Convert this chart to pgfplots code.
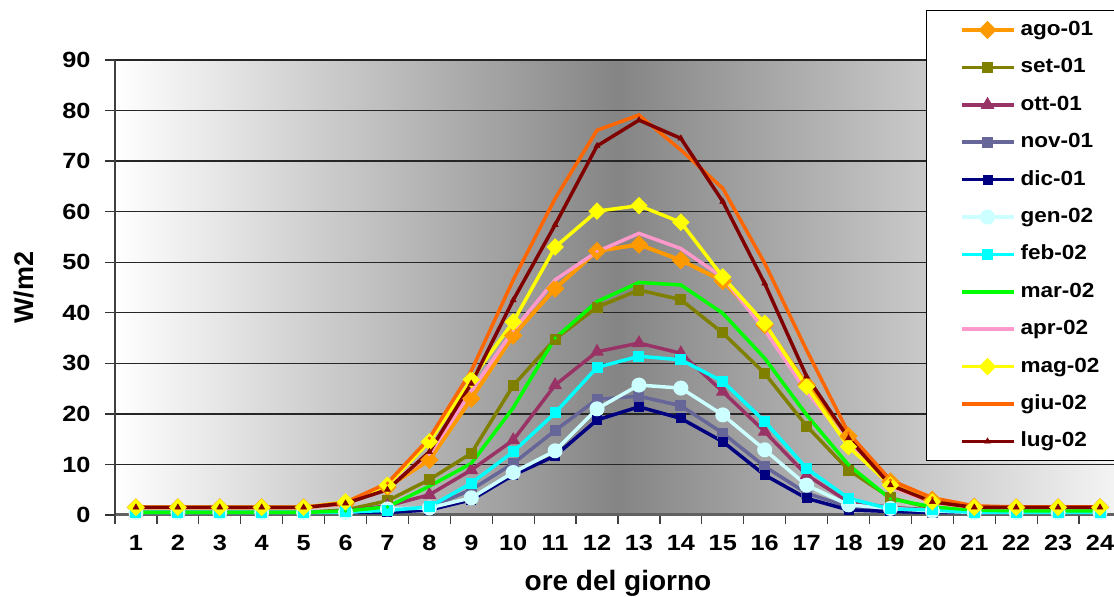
\documentclass[border=0pt]{standalone}
\usepackage{fontspec}
\setmainfont{Liberation Sans}
\newfontfamily\legfont[FakeStretch=1.1]{Liberation Sans}
\newfontfamily\tickfont[FakeStretch=1.15]{Liberation Sans}
\usepackage{pgfplots}
\pgfplotsset{compat=1.18}
\usepackage{pgfplotstable}
\definecolor{cago}{HTML}{FF9900}
\definecolor{cset}{HTML}{808000}
\definecolor{cott}{HTML}{993366}
\definecolor{cnov}{HTML}{666699}
\definecolor{cdic}{HTML}{000080}
\definecolor{cgen}{HTML}{CCFFFF}
\definecolor{cfeb}{HTML}{00FFFF}
\definecolor{cmar}{HTML}{00FF00}
\definecolor{capr}{HTML}{FF99CC}
\definecolor{cmag}{HTML}{FFFF00}
\definecolor{cgiu}{HTML}{FF6600}
\definecolor{clug}{HTML}{800000}
\pgfplotstableread{
h  ago  set  ott  nov  dic  gen  feb  mar  apr  mag  giu  lug
1  1.5  0.5  0.5  0.5  0.5  0.5  0.5  0.5  1.5  1.5  1.5  1.5
2  1.5  0.5  0.5  0.5  0.5  0.5  0.5  0.5  1.5  1.5  1.5  1.5
3  1.5  0.5  0.5  0.5  0.5  0.5  0.5  0.5  1.5  1.5  1.5  1.5
4  1.5  0.5  0.5  0.5  0.5  0.5  0.5  0.5  1.5  1.5  1.5  1.5
5  1.5  0.5  0.5  0.5  0.5  0.5  0.5  0.5  1.5  1.5  1.5  1.5
6  2.2  1.0  0.8  0.5  0.5  0.5  0.6  0.8  2.2  2.6  2.5  2.3
7  5.5  2.8  1.8  0.8  0.5  1.2  0.9  1.6  5.5  5.9  6.3  5.0
8  10.9 7.0  4.0  1.5  1.0  1.4  1.6  5.7  12.0 14.5 15.2 12.5
9  23.0 12.2 8.9  5.0  3.0  3.4  6.3  10.2 24.5 26.8 28.5 26.0
10 35.5 25.6 14.8 10.2 7.9  8.4  12.5 21.2 36.5 38.2 46.5 42.5
11 44.8 34.8 25.7 16.7 11.7 12.7 20.2 35.0 46.5 53.0 62.6 57.4
12 52.2 41.1 32.3 22.9 18.8 21.0 29.2 42.2 52.1 60.1 76.1 73.0
13 53.5 44.5 34.0 23.5 21.4 25.7 31.4 46.0 55.7 61.2 79.1 78.1
14 50.4 42.6 32.0 21.6 19.1 25.1 30.7 45.5 52.7 57.9 72.2 74.5
15 46.3 36.0 24.4 16.2 14.5 19.8 26.4 39.9 47.0 47.1 64.6 62.0
16 37.6 28.0 16.5 9.6  7.9  12.9 18.5 31.0 36.6 37.9 49.8 45.8
17 25.8 17.6 7.9  4.3  3.3  5.9  9.2  19.8 24.4 25.4 32.6 27.4
18 15.6 8.9  2.6  1.6  1.0  2.0  3.3  9.9  14.2 13.5 16.2 15.2
19 6.6  3.4  1.5  0.8  0.7  1.3  1.2  3.2  5.6  5.9  6.9  5.9
20 3.0  1.3  1.0  0.5  0.5  0.8  1.0  1.6  2.4  2.6  3.4  2.6
21 1.6  1.0  0.5  0.5  0.5  0.5  0.5  1.0  1.5  1.5  1.8  1.5
22 1.5  0.5  0.5  0.5  0.5  0.5  0.5  0.8  1.5  1.5  1.6  1.5
23 1.5  0.5  0.5  0.5  0.5  0.5  0.5  0.8  1.5  1.5  1.6  1.5
24 1.5  0.5  0.5  0.5  0.5  0.5  0.5  0.8  1.5  1.5  1.6  1.5
}\data
\begin{document}
\begin{tikzpicture}
\useasboundingbox (0,0) rectangle (1114pt,597pt);
\clip (0,0) rectangle (1114pt,597pt);
\begin{axis}[
  at={(115pt,82pt)}, anchor=south west,
  scale only axis, width=1006pt, height=455pt,
  xmin=0.5, xmax=24.5, ymin=0, ymax=90, clip=false,
  axis x line*=bottom, axis y line*=left,
  x axis line style={-, draw=black!62, line width=3pt},
  y axis line style={-, draw=black!75, line width=2pt},
  xtick={1,...,24}, major x tick style={draw=none},
  minor xtick={0.5,1.5,...,24.5},
  minor x tick style={draw=black!75, line width=1.2pt},
  minor tick length=9pt,
  ytick={0,10,...,90}, major tick length=10pt,
  major y tick style={draw=black!80, line width=1.4pt},
  tick align=outside,
  ymajorgrids, grid style={draw=black!85, line width=1.3pt},
  axis background/.style={left color=white, right color=white!96!black, middle color=black!48},
  ticklabel style={font=\tickfont\fontsize{22}{26}\selectfont\bfseries},
  xticklabel style={yshift=-7pt},
  yticklabel style={xshift=-11pt},
  /pgf/number format/assume math mode=true,
  every axis x label/.style={at={(rel axis cs:0.5,0)}, anchor=base, yshift=-75pt, font=\fontsize{28}{33}\selectfont\bfseries},
  every axis y label/.style={at={(rel axis cs:-0.0815,0.5)}, rotate=90, anchor=base, font=\fontsize{27}{32}\selectfont\bfseries},
  xlabel={ore del giorno}, ylabel={W/m2},
  legend style={at={(0.8062,1.1099)}, anchor=north west, draw=black, line width=1pt, fill=white,
    inner xsep=33pt, inner ysep=10pt, row sep=18.4pt, column sep=5pt,
    nodes={inner sep=0pt, text height=15pt, text depth=4pt, font=\legfont\fontsize{20.5}{24}\selectfont\bfseries}},
  legend cell align=left,
  legend image code/.code={\draw[mark repeat=2,mark phase=2] plot coordinates {(0pt,0pt) (26pt,0pt) (52pt,0pt)};},
]
\addplot[color=cago, line width=4pt, mark=diamond*, mark size=8.5pt, mark options={xscale=1.33, solid, fill=cago, line width=1pt}] table[x=h,y=ago]{\data};
\addlegendentry{ago-01}
\addplot[color=cset, line width=3.5pt, mark=square*, mark size=5pt, mark options={solid, fill=cset, line width=1pt}] table[x=h,y=set]{\data};
\addlegendentry{set-01}
\addplot[color=cott, line width=3.5pt, mark=triangle*, mark size=7pt, mark options={solid, fill=cott, line width=1pt}] table[x=h,y=ott]{\data};
\addlegendentry{ott-01}
\addplot[color=cnov, line width=3.5pt, mark=square*, mark size=5pt, mark options={solid, fill=cnov, line width=1pt}] table[x=h,y=nov]{\data};
\addlegendentry{nov-01}
\addplot[color=cdic, line width=3.5pt, mark=square*, mark size=4.5pt, mark options={solid, fill=cdic, line width=1pt}] table[x=h,y=dic]{\data};
\addlegendentry{dic-01}
\addplot[color=cgen, line width=3.5pt, mark=*, mark size=7pt, mark options={solid, fill=cgen, line width=1pt}] table[x=h,y=gen]{\data};
\addlegendentry{gen-02}
\addplot[color=cfeb, line width=3.5pt, mark=square*, mark size=5pt, mark options={solid, fill=cfeb, line width=1pt}] table[x=h,y=feb]{\data};
\addlegendentry{feb-02}
\addplot[color=cmar, line width=3.5pt, mark=*, mark size=1.5pt, mark options={solid, fill=cmar, line width=0.5pt}] table[x=h,y=mar]{\data};
\addlegendentry{mar-02}
\addplot[color=capr, line width=3.5pt, mark=*, mark size=1.5pt, mark options={solid, fill=capr, line width=0.5pt}] table[x=h,y=apr]{\data};
\addlegendentry{apr-02}
\addplot[color=cmag, line width=3.5pt, mark=diamond*, mark size=8pt, mark options={xscale=1.33, solid, fill=cmag, line width=1pt}] table[x=h,y=mag]{\data};
\addlegendentry{mag-02}
\addplot[color=cgiu, line width=3.5pt, mark=*, mark size=1.5pt, mark options={solid, fill=cgiu, line width=0.5pt}] table[x=h,y=giu]{\data};
\addlegendentry{giu-02}
\addplot[color=clug, line width=3.5pt, mark=triangle*, mark size=3.5pt, mark options={solid, fill=clug, line width=0.5pt}] table[x=h,y=lug]{\data};
\addlegendentry{lug-02}
\end{axis}
\end{tikzpicture}
\end{document}
